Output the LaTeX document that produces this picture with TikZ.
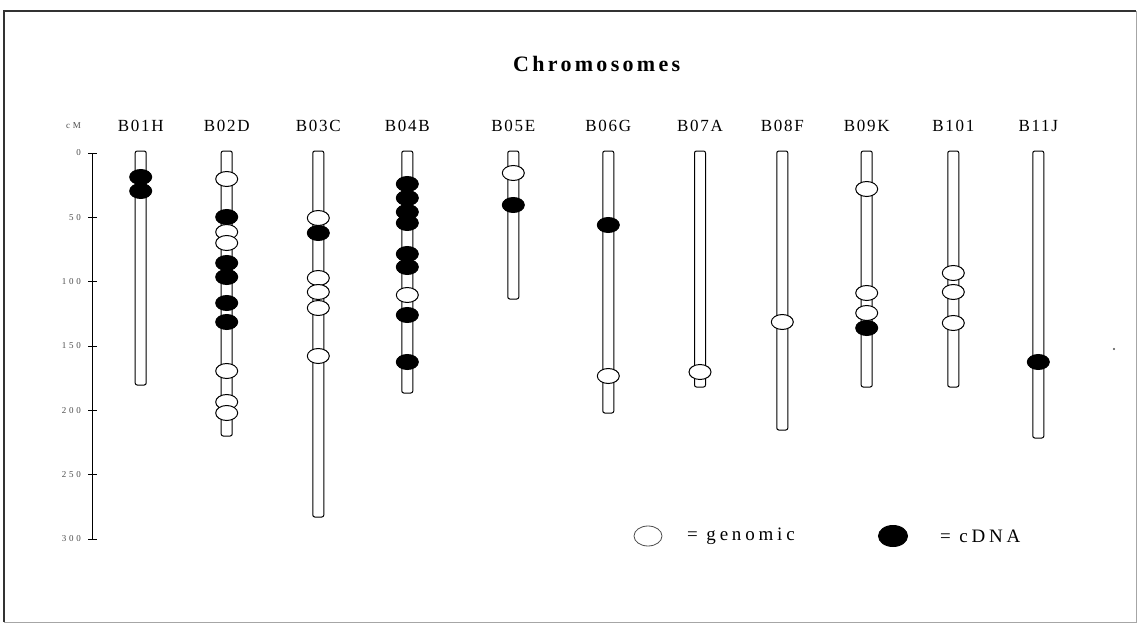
\documentclass[tikz,border=0pt]{standalone}
\usepackage{fontspec}
\setmainfont{Liberation Serif}
\newfontfamily\titlefont[LetterSpace=15]{Liberation Serif}
\newfontfamily\labelfont[LetterSpace=10]{Liberation Serif}
\newfontfamily\legendfont[LetterSpace=20]{Liberation Serif}
\newfontfamily\tickfont[LetterSpace=30]{Liberation Serif}

\tikzset{
  tube/.style={draw, line width=1pt, fill=white, rounded corners=2pt},
  marker/.style={draw, line width=1pt},
  chrlabel/.style={font=\labelfont\fontsize{17}{19}\selectfont, inner sep=0pt},
  ticklabel/.style={font=\tickfont\fontsize{9}{10}\selectfont, text=black!70, anchor=east, inner sep=0pt},
  legendtext/.style={font=\legendfont\fontsize{19}{21}\selectfont, anchor=west, inner sep=0pt}
}

\begin{document}
\begin{tikzpicture}[x=1pt, y=-1pt]
    \useasboundingbox (0,0) rectangle (1138,626);
    % frame
    \draw[black!35, line width=0.8pt] (1136,11) -- (1136,622) -- (4,622);
    \draw[line width=1.5pt, black!80] (4,622) -- (4,11) -- (1136,11);

    \node[font=\titlefont\bfseries\fontsize{22}{24}\selectfont, anchor=west, inner sep=0pt] (title) at (513,64) {Chromosomes};

    % cM scale
    \node[ticklabel] (unit) at (81,126) {cM};
    \draw[line width=0.9pt] (92,153) coordinate (axtop) -- (92,539) coordinate (axbot);
    \foreach \v in {0,50,...,300} {
        \draw[line width=0.9pt] (88,153+\v*1.2867) -- (97,153+\v*1.2867);
        \node[ticklabel] (tick\v) at (81,153+\v*1.2867) {\v};
    }

    % chromosomes
    \foreach \nm/\x/\bot in {B01H/140.7/385, B02D/226.7/436, B03C/318.3/517, B04B/407.3/393,
        B05E/513.3/299, B06G/608.3/413, B07A/700/387, B08F/782.3/430,
        B09K/866.7/387, B101/953.3/387, B11J/1038.3/438} {
        \draw[tube] (\x-5.5,151) rectangle (\x+5.5,\bot);
        \node[chrlabel] (\nm) at (\x,126) {\nm};
    }

    % markers
    \foreach \x/\y/\f in {
        140.7/177/black, 140.7/191/black,
        226.7/179/white, 226.7/217/black, 226.7/232/white, 226.7/243/white, 226.7/263/black,
        226.7/277/black, 226.7/303/black, 226.7/322/black, 226.7/371/white, 226.7/402/white, 226.7/413/white,
        318.3/218/white, 318.3/233/black, 318.3/278/white, 318.3/292/white, 318.3/308/white, 318.3/356/white,
        407.3/184/black, 407.3/198/black, 407.3/212/black, 407.3/223/black, 407.3/254/black,
        407.3/267/black, 407.3/295/white, 407.3/315/black, 407.3/362/black,
        513.3/173/white, 513.3/205/black,
        608.3/225/black, 608.3/376/white,
        700/372/white,
        782.3/322/white,
        866.7/189/white, 866.7/293/white, 866.7/313/white, 866.7/328/black,
        953.3/273/white, 953.3/292/white, 953.3/323/white,
        1038.3/362/black} {
        \draw[marker, fill=\f] (\x,\y) ellipse [x radius=11pt, y radius=7.5pt];
    }

    % legend
    \draw[marker, line width=0.8pt, draw=black!70] (648,536) ellipse [x radius=14pt, y radius=10pt];
    \node[legendtext] (gen) at (687,536) {= genomic};
    \draw[marker, fill=black] (893,536) ellipse [x radius=14.5pt, y radius=10.5pt];
    \node[legendtext] (cdna) at (940,536) {= cDNA};

    \fill[black!70] (1114,349) circle (1.2pt);
\end{tikzpicture}
\end{document}
